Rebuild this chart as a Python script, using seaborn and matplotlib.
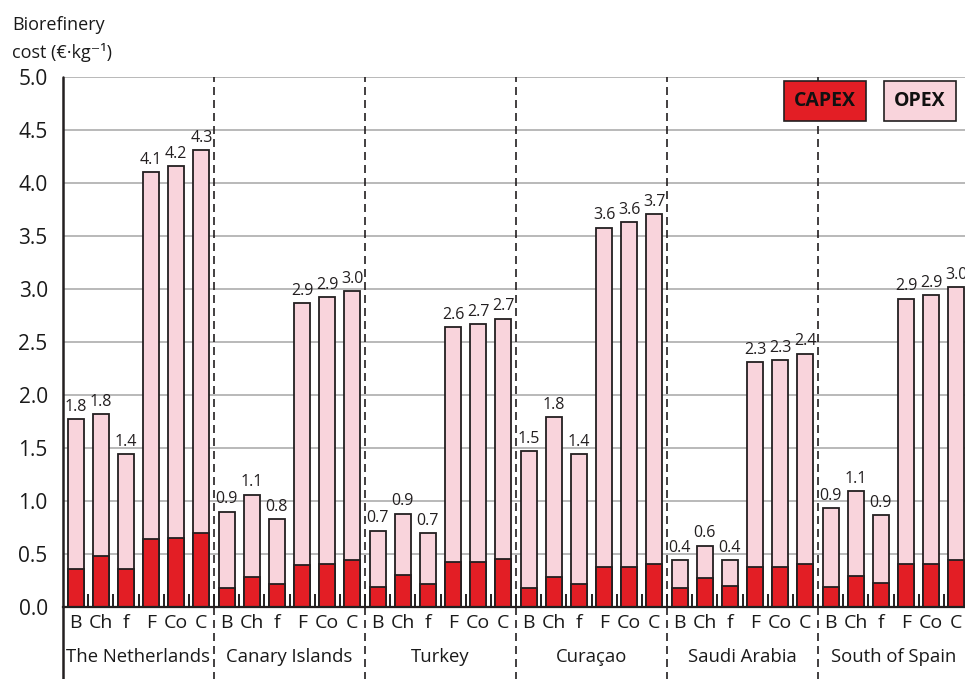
import matplotlib
matplotlib.use("Agg")
import matplotlib.pyplot as plt
import matplotlib.transforms as mtransforms
import seaborn as sns
import pandas as pd

# Countries and biorefinery scenarios
countries = ["The Netherlands", "Canary Islands", "Turkey", "Curaçao", "Saudi Arabia", "South of Spain"]
scenarios = ["B", "Ch", "f", "F", "Co", "C"]

# CAPEX per scenario (€/kg), one list per country
capex_nl = [0.36, 0.48, 0.36, 0.64, 0.65, 0.70]
capex_ci = [0.18, 0.28, 0.22, 0.40, 0.41, 0.44]
capex_tr = [0.19, 0.30, 0.22, 0.42, 0.42, 0.45]
capex_cw = [0.18, 0.28, 0.22, 0.38, 0.38, 0.41]
capex_sa = [0.18, 0.27, 0.20, 0.38, 0.38, 0.41]
capex_ss = [0.19, 0.29, 0.23, 0.41, 0.41, 0.44]

# OPEX per scenario (€/kg)
opex_nl = [1.41, 1.34, 1.08, 3.46, 3.51, 3.61]
opex_ci = [0.72, 0.78, 0.61, 2.47, 2.51, 2.54]
opex_tr = [0.53, 0.58, 0.48, 2.22, 2.25, 2.27]
opex_cw = [1.29, 1.51, 1.22, 3.20, 3.25, 3.30]
opex_sa = [0.26, 0.31, 0.24, 1.93, 1.95, 1.98]
opex_ss = [0.74, 0.80, 0.64, 2.50, 2.53, 2.58]

capex_all = capex_nl + capex_ci + capex_tr + capex_cw + capex_sa + capex_ss
opex_all = opex_nl + opex_ci + opex_tr + opex_cw + opex_sa + opex_ss

df = pd.DataFrame({
    "pos": list(range(len(capex_all))),
    "country": [c for c in countries for _ in scenarios],
    "scenario": scenarios * len(countries),
    "CAPEX": capex_all,
    "OPEX": opex_all,
})
df["total"] = df["CAPEX"] + df["OPEX"]

red = "#e31e25"
pink = "#f9d4dc"
edge = "#231f20"

sns.set_style("whitegrid")
plt.rcParams["font.family"] = ["Open Sans", "DejaVu Sans"]

fig = plt.figure(figsize=(9.65, 6.79), dpi=100)
ax = fig.add_axes([63 / 965, 72 / 679, 906 / 965, 530 / 679])

# stacked bars: total (OPEX colour) first, then CAPEX over the bottom part
sns.barplot(data=df, x="pos", y="total", color=pink, saturation=1, width=0.63,
            edgecolor=edge, linewidth=1.3, ax=ax, zorder=3)
sns.barplot(data=df, x="pos", y="CAPEX", color=red, saturation=1, width=0.63,
            edgecolor=edge, linewidth=1.3, ax=ax, zorder=4)

n = len(df)
ax.set_xlim(-0.5, n - 0.5)
ax.set_ylim(0, 5.0)
ax.set_yticks([i * 0.5 for i in range(11)])
ax.set_yticklabels([f"{i * 0.5:.1f}" for i in range(11)], fontsize=15, color="#1a1a1a")
ax.set_xlabel("")
ax.set_ylabel("")

# grid
ax.grid(False, axis="x")
ax.grid(True, axis="y", color="#b3b3b3", linewidth=1.3, zorder=0)
ax.set_axisbelow(True)

# scenario labels under each bar, small inward ticks between bars
ax.set_xticks(df["pos"])
ax.set_xticklabels(df["scenario"], fontsize=14, color="#1a1a1a")
ax.tick_params(axis="x", which="major", length=0, pad=5)
ax.set_xticks([i + 0.5 for i in range(n - 1)], minor=True)
ax.tick_params(axis="x", which="minor", direction="in", length=9.5, width=1.4,
               color=edge, bottom=True)
ax.tick_params(axis="y", length=0, pad=11)

for s in ["top", "right", "left"]:
    ax.spines[s].set_visible(False)
ax.spines["bottom"].set_color(edge)
ax.spines["bottom"].set_linewidth(1.6)
ax.spines["bottom"].set_zorder(5)

# left axis line running down past the labels
ax.axvline(-0.5, ymin=-0.14, ymax=1, color=edge, linewidth=1.8, clip_on=False, zorder=5)

# dashed separators between countries
for k in range(1, len(countries)):
    ax.axvline(k * len(scenarios) - 0.5, ymin=-0.14, ymax=1, color=edge, linewidth=1.2,
               linestyle=(0, (4.8, 3.0)), clip_on=False, zorder=2)

# value labels
for _, row in df.iterrows():
    ax.text(row["pos"], row["total"] + 0.04, f"{row['total']:.1f}", ha="center", va="bottom",
            fontsize=11.5, color="#231f20", zorder=6)

# country labels
trans = mtransforms.blended_transform_factory(ax.transData, ax.transAxes)
for k, c in enumerate(countries):
    ax.text(k * len(scenarios) + 2.5, -0.094, c, transform=trans, ha="center", va="center",
            fontsize=13.3, color="#1a1a1a")

# legend boxes
ax.text(762 / 906, 1 - 24 / 530, "CAPEX", transform=ax.transAxes,
        ha="center", va="center", fontsize=14, fontweight="bold", color="#111111", zorder=7,
        bbox=dict(boxstyle="square,pad=0.5", facecolor=red, edgecolor=edge, linewidth=1.2))
ax.text(857 / 906, 1 - 24 / 530, "OPEX", transform=ax.transAxes,
        ha="center", va="center", fontsize=14, fontweight="bold", color="#111111", zorder=7,
        bbox=dict(boxstyle="square,pad=0.5", facecolor=pink, edgecolor=edge, linewidth=1.2))

# y axis title
fig.text(12 / 965, 1 - 30 / 679, "Biorefinery", fontsize=13, color="#1a1a1a", va="baseline")
fig.text(12 / 965, 1 - 58 / 679, "cost (€·kg⁻¹)", fontsize=13, color="#1a1a1a", va="baseline")

fig.savefig("out.png", dpi=100)
